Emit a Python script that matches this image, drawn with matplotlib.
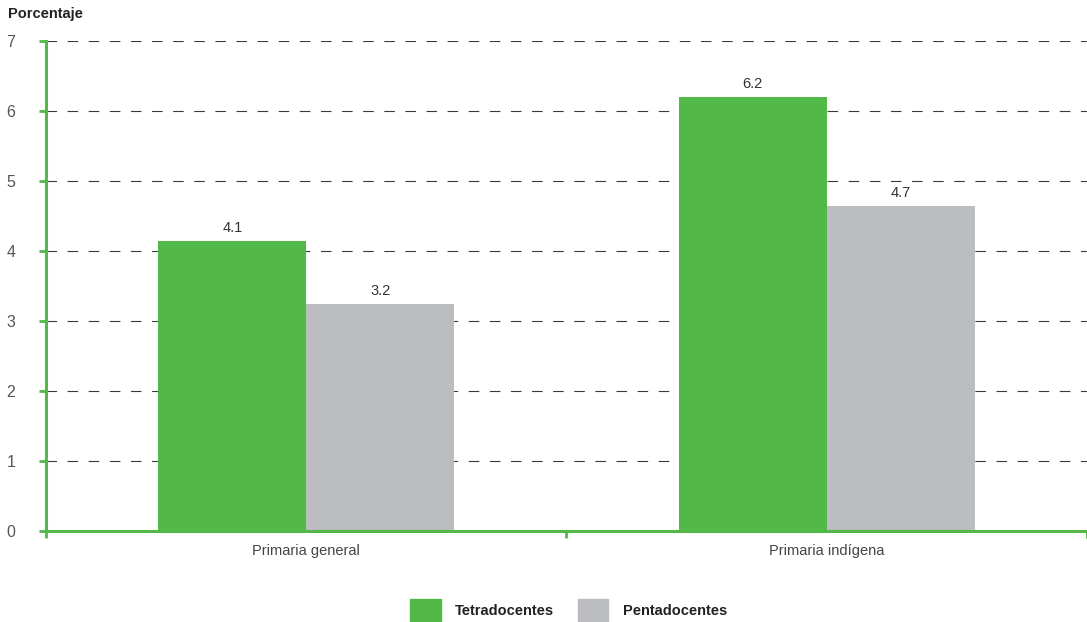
import matplotlib.pyplot as plt
import numpy as np
from matplotlib.patches import Patch
from matplotlib.ticker import FixedLocator

plt.rcParams['font.family'] = ['Liberation Sans', 'DejaVu Sans']

categories = ['Primaria general', 'Primaria indígena']
series_names = ['Tetradocentes', 'Pentadocentes']
tetra = [4.1, 6.2]
penta = [3.2, 4.7]
tetra_heights = [4.15, 6.2]
penta_heights = [3.25, 4.65]
y_ticks = [0, 1, 2, 3, 4, 5, 6, 7]

green = '#52b848'
gray = '#bcbdc0'
text_col = '#333333'

fig = plt.figure(figsize=(10.87, 6.22), dpi=100)
ax = fig.add_axes([0.0423, 0.1463, 0.9577, 0.7877])

x = np.arange(len(categories))
w = 0.284
b1 = ax.bar(x - w / 2, tetra_heights, w, color=green, label=series_names[0], zorder=2)
b2 = ax.bar(x + w / 2, penta_heights, w, color=gray, label=series_names[1], zorder=2)

for bars, vals in ((b1, tetra), (b2, penta)):
    for r, v in zip(bars, vals):
        ax.annotate(f'{v:.1f}', (r.get_x() + r.get_width() / 2, r.get_height()),
                    xytext=(0, 4), textcoords='offset points', ha='center', va='bottom',
                    fontsize=10.5, color=text_col)

ax.set_xlim(-0.5, len(categories) - 0.5)
ax.set_ylim(0, 7)
ax.set_yticks(y_ticks)
ax.set_xticks(x)
ax.set_xticklabels(categories)
ax.xaxis.set_minor_locator(FixedLocator([-0.5, 0.5, 1.5]))

ax.tick_params(axis='x', which='major', length=0, pad=9, labelsize=10.5, labelcolor='#444444')
ax.tick_params(axis='x', which='minor', length=5, width=2, color=green, direction='out')
ax.tick_params(axis='y', length=5, width=2, color=green, pad=17, labelsize=11.5, labelcolor='#555555')

ax.grid(axis='y', color='#3a3a3a', linestyle=(0, (9.5, 9.5)), linewidth=0.8)
ax.set_axisbelow(True)
for s in ('top', 'right'):
    ax.spines[s].set_visible(False)
for s in ('left', 'bottom'):
    ax.spines[s].set_color(green)
    ax.spines[s].set_linewidth(2.2)

fig.text(0.0075, 0.977, 'Porcentaje', fontsize=10.5, fontweight='bold', color='#222222',
         va='center', ha='left')

handles = [Patch(color=green, label=series_names[0]), Patch(color=gray, label=series_names[1])]
leg = fig.legend(handles=handles, loc='lower center', bbox_to_anchor=(0.523, 0.0), ncol=2,
                 frameon=False, fontsize=10.5, handlelength=2.1, handleheight=2.1,
                 handletextpad=1.0, columnspacing=1.6, borderpad=0, borderaxespad=0)
for t in leg.get_texts():
    t.set_fontweight('bold')
    t.set_color('#222222')

fig.savefig('out.png', dpi=100)
